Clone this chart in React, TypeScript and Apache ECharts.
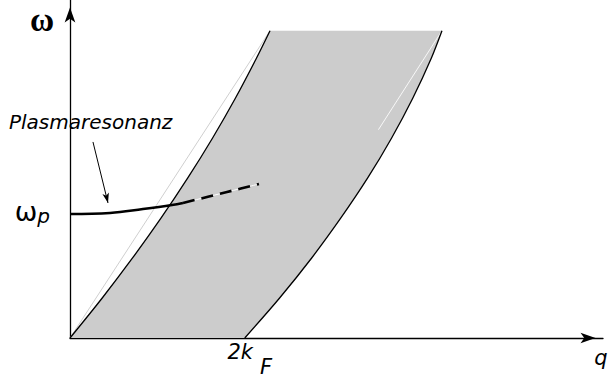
import React, { useEffect, useRef } from "react";
import * as echarts from "echarts";

// axis marks
const X_TICKS = [2];
const X_TICK_LABELS = ["2k|F"];
const OMEGA_P = 2.018;
const Y_TICKS = [OMEGA_P];
const Y_TICK_LABELS = ["ω|p"];
const X_NAME = "q";
const Y_NAME = "ω";
const ANNOTATION = "Plasmaresonanz";

// upper boundary of the particle-hole continuum [q, ω]
const upperQ = [0, 0.369, 0.716, 1.043, 1.348, 1.632, 1.894, 2.135, 2.289];
const upperW = [0, 0.651, 1.302, 1.953, 2.604, 3.255, 3.906, 4.557, 5.0];
// lower boundary (starts at 2kF)
const lowerQ = [2.0, 2.399, 2.766, 3.1, 3.407, 3.681, 3.924, 4.136, 4.257];
const lowerW = [0, 0.651, 1.302, 1.953, 2.604, 3.255, 3.906, 4.557, 5.0];
// plasma resonance
const plasmaQ = [0, 0.458, 0.835, 1.167, 1.293];
const plasmaW = [OMEGA_P, 2.034, 2.099, 2.164, 2.197];
const plasmaDashQ = [1.293, 1.797, 2.163];
const plasmaDashW = [2.197, 2.376, 2.506];
// straight chords
const chordLeftQ = [0, 2.289];
const chordLeftW = [0, 5.0];
const chordRightQ = [3.53, 4.257];
const chordRightW = [3.39, 5.0];
// annotation arrow
const arrowFrom = [0.263, 3.19];
const arrowTo = [0.435, 2.197];

const zip = (a: number[], b: number[]) => a.map((v, i) => [v, b[i]]);

export default function App() {
  const ref = useRef<HTMLDivElement>(null);
  useEffect(() => {
    document.body.style.margin = "0";
    const chart = echarts.init(ref.current!, null, { renderer: "svg" });
    const font = "DejaVu Sans";
    chart.setOption({
      animation: false,
      backgroundColor: "#ffffff",
      grid: { left: 70, right: 8, top: 0, bottom: 45, outerBoundsMode: "none", containLabel: false },
      xAxis: {
        type: "value",
        min: 0,
        max: 6.1,
        name: X_NAME,
        nameLocation: "end",
        nameGap: -2,
        nameTextStyle: {
          fontFamily: font,
          fontStyle: "italic",
          fontSize: 21,
          color: "#000",
          align: "center",
          verticalAlign: "top",
          padding: [9, 0, 0, 0],
        },
        axisLine: {
          show: true,
          symbol: ["none", "arrow"],
          symbolSize: [8, 15],
          symbolOffset: [0, -7.5],
          lineStyle: { color: "#000", width: 1.3 },
        },
        axisTick: { show: false },
        splitLine: { show: false },
        axisLabel: {
          customValues: X_TICKS,
          margin: 3,
          formatter: (v: number) => {
            const s = X_TICK_LABELS[X_TICKS.indexOf(v)] || "";
            const [a, b] = s.split("|");
            return `{a|${a}}{b|${b}}`;
          },
          rich: {
            a: { fontFamily: font, fontStyle: "italic", fontSize: 21, color: "#000", padding: [0, 0, 15, 10] },
            b: { fontFamily: font, fontStyle: "italic", fontSize: 21, color: "#000", padding: [15, 0, 0, 7] },
          },
        },
      },
      yAxis: {
        type: "value",
        min: 0,
        max: 5.5,
        name: Y_NAME,
        nameLocation: "end",
        nameGap: -20,
        nameTextStyle: {
          fontFamily: "Liberation Serif",
          fontSize: 33,
          fontWeight: "bold",
          color: "#000",
          align: "right",
          verticalAlign: "middle",
          padding: [0, 16, 6, 0],
        },
        axisLine: {
          show: true,
          symbol: ["none", "arrow"],
          symbolSize: [8, 15],
          symbolOffset: [0, -7.5],
          lineStyle: { color: "#000", width: 1.3 },
        },
        axisTick: { show: false },
        splitLine: { show: false },
        axisLabel: {
          customValues: Y_TICKS,
          margin: 20,
          formatter: () => {
            const [a, b] = Y_TICK_LABELS[0].split("|");
            return `{a|${a}}{b|${b}}`;
          },
          rich: {
            a: { fontFamily: font, fontSize: 27, color: "#000", padding: [0, 0, 4, 0] },
            b: { fontFamily: font, fontStyle: "italic", fontSize: 20, color: "#000", padding: [4, 0, 0, 0] },
          },
        },
      },
      graphic: [
        {
          type: "text",
          left: 9,
          top: 112,
          style: { text: ANNOTATION, fontFamily: font, fontStyle: "italic", fontSize: 20, fill: "#000" },
        },
      ],
      series: [
        {
          type: "custom",
          silent: true,
          z: 1,
          data: [[0, 0]],
          renderItem: (_p: any, api: any) => {
            const pts: number[][] = [];
            upperQ.forEach((q, i) => pts.push(api.coord([q, upperW[i]])));
            for (let i = lowerQ.length - 1; i >= 0; i--) pts.push(api.coord([lowerQ[i], lowerW[i]]));
            return { type: "polygon", shape: { points: pts }, style: { fill: "#cccccc" } };
          },
        },
        {
          type: "line",
          z: 2,
          symbol: "none",
          data: zip(chordLeftQ, chordLeftW),
          lineStyle: { color: "#cfcfcf", width: 1 },
        },
        {
          type: "line",
          z: 2,
          symbol: "none",
          data: zip(chordRightQ, chordRightW),
          lineStyle: { color: "#ffffff", width: 1, opacity: 0.85 },
        },
        {
          type: "line",
          z: 3,
          symbol: "none",
          smooth: 0.3,
          data: zip(upperQ, upperW),
          lineStyle: { color: "#000", width: 1.3 },
        },
        {
          type: "line",
          z: 3,
          symbol: "none",
          smooth: 0.3,
          data: zip(lowerQ, lowerW),
          lineStyle: { color: "#000", width: 1.3 },
        },
        {
          type: "line",
          z: 4,
          symbol: "none",
          smooth: 0.4,
          data: zip(plasmaQ, plasmaW),
          lineStyle: { color: "#000", width: 2.6 },
          markLine: {
            silent: true,
            symbol: ["none", "arrow"],
            symbolSize: [5, 10],
            label: { show: false },
            lineStyle: { color: "#000", width: 1, type: "solid" },
            data: [[{ coord: arrowFrom }, { coord: arrowTo }]],
          },
        },
        {
          type: "line",
          z: 4,
          symbol: "none",
          smooth: 0.3,
          data: zip(plasmaDashQ, plasmaDashW),
          lineStyle: { color: "#ffffff", width: 1 },
        },
        {
          type: "line",
          z: 5,
          symbol: "none",
          smooth: 0.3,
          data: zip(plasmaDashQ, plasmaDashW),
          lineStyle: { color: "#000", width: 2.6, type: [12, 7] },
        },
      ],
    });
    return () => chart.dispose();
  }, []);
  return <div ref={ref} style={{ width: 611, height: 383 }} />;
}
